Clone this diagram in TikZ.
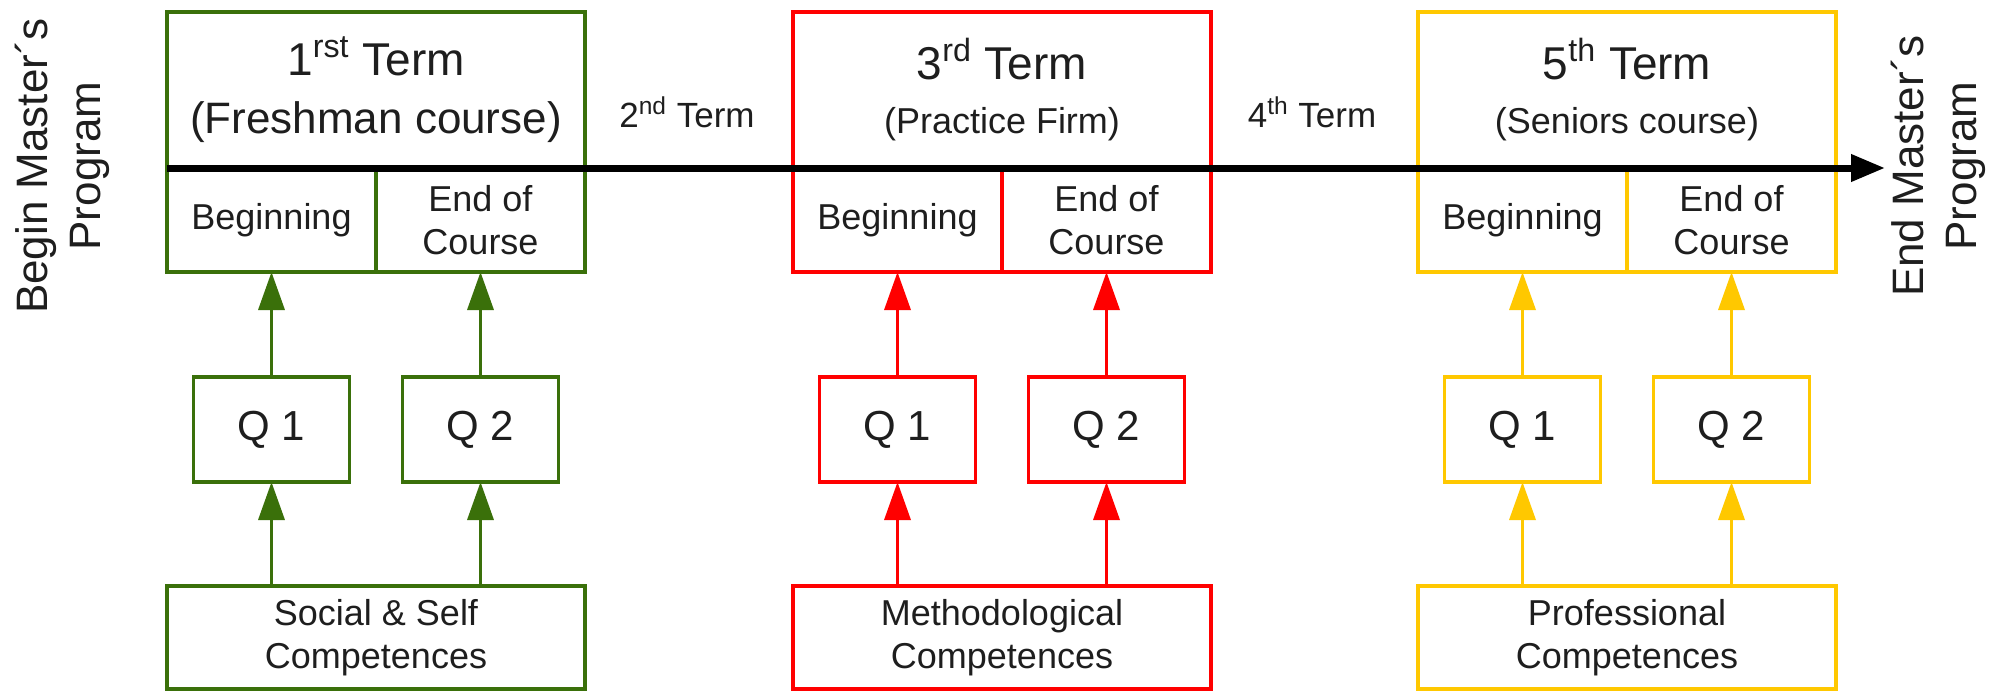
\documentclass[tikz,border=0pt]{standalone}
\usepackage{fontspec}
\setmainfont{Liberation Sans}
\usetikzlibrary{arrows.meta}
\definecolor{cgreen}{RGB}{58,112,10}
\definecolor{cred}{RGB}{255,0,0}
\definecolor{cyellow}{RGB}{255,200,0}
\definecolor{ctext}{RGB}{30,30,30}
\newcommand{\fs}[2]{\fontsize{#1}{#2}\selectfont}
\begin{document}
\begin{tikzpicture}[x=0.5pt,y=-0.5pt,
  box/.style={draw, line width=1.75pt, inner sep=0pt, outer sep=0pt, text=ctext, align=center},
  topbox/.style={box, minimum width=209pt, minimum height=78pt, font=\fs{23}{27}},
  halfbox/.style={box, minimum width=104.5pt, minimum height=52pt, font=\fs{18}{21.5}},
  qbox/.style={box, minimum width=78pt, minimum height=52.5pt, font=\fs{21}{25}},
  compbox/.style={box, minimum width=209pt, minimum height=51.5pt, font=\fs{18}{21.5}},
  conn/.style={line width=1.75pt, -{Triangle[length=19pt,width=13pt]}},
  axis/.style={line width=3.5pt, draw=black, -{Triangle[length=17pt,width=13pt]}},
  plain/.style={text=ctext, inner sep=0pt, align=center}]
\useasboundingbox (0,0) rectangle (2003,691);

% ---------- group 1 (green) ----------
\node[topbox, draw=cgreen] (t1) at (376,90) {1\textsuperscript{rst} Term\\[2pt]\fs{22}{27}(Freshman course)};
\node[halfbox, draw=cgreen] (b1) at (271.5,220) {Beginning};
\node[halfbox, draw=cgreen] (e1) at (480.5,220) {End of\\Course};
\node[qbox, draw=cgreen] (q11) at (271.5,429.5) {Q 1};
\node[qbox, draw=cgreen] (q12) at (480.5,429.5) {Q 2};
\node[compbox, draw=cgreen] (c1) at (376,637.5) {Social \& Self\\Competences};
\draw[conn, draw=cgreen, fill=cgreen] (q11.north) -- (b1.south);
\draw[conn, draw=cgreen, fill=cgreen] (q12.north) -- (e1.south);
\draw[conn, draw=cgreen, fill=cgreen] (c1.north -| q11) -- (q11.south);
\draw[conn, draw=cgreen, fill=cgreen] (c1.north -| q12) -- (q12.south);

% ---------- group 2 (red) ----------
\node[topbox, draw=cred] (t3) at (1002,90) {3\textsuperscript{rd} Term\\[0pt]\fs{18}{27}(Practice Firm)};
\node[halfbox, draw=cred] (b3) at (897.5,220) {Beginning};
\node[halfbox, draw=cred] (e3) at (1106.5,220) {End of\\Course};
\node[qbox, draw=cred] (q31) at (897.5,429.5) {Q 1};
\node[qbox, draw=cred] (q32) at (1106.5,429.5) {Q 2};
\node[compbox, draw=cred] (c3) at (1002,637.5) {Methodological\\Competences};
\draw[conn, draw=cred, fill=cred] (q31.north) -- (b3.south);
\draw[conn, draw=cred, fill=cred] (q32.north) -- (e3.south);
\draw[conn, draw=cred, fill=cred] (c3.north -| q31) -- (q31.south);
\draw[conn, draw=cred, fill=cred] (c3.north -| q32) -- (q32.south);

% ---------- group 3 (yellow) ----------
\node[topbox, draw=cyellow] (t5) at (1627,90) {5\textsuperscript{th} Term\\[0pt]\fs{18}{27}(Seniors course)};
\node[halfbox, draw=cyellow] (b5) at (1522.5,220) {Beginning};
\node[halfbox, draw=cyellow] (e5) at (1731.5,220) {End of\\Course};
\node[qbox, draw=cyellow] (q51) at (1522.5,429.5) {Q 1};
\node[qbox, draw=cyellow] (q52) at (1731.5,429.5) {Q 2};
\node[compbox, draw=cyellow] (c5) at (1627,637.5) {Professional\\Competences};
\draw[conn, draw=cyellow, fill=cyellow] (q51.north) -- (b5.south);
\draw[conn, draw=cyellow, fill=cyellow] (q52.north) -- (e5.south);
\draw[conn, draw=cyellow, fill=cyellow] (c5.north -| q51) -- (q51.south);
\draw[conn, draw=cyellow, fill=cyellow] (c5.north -| q52) -- (q52.south);

% ---------- intermediate terms ----------
\node[plain, anchor=base, font=\fs{17.5}{21}] (t2) at (687,127) {2\textsuperscript{nd} Term};
\node[plain, anchor=base, font=\fs{17.5}{21}] (t4) at (1312,127) {4\textsuperscript{th} Term};

% ---------- time axis ----------
\coordinate (axend) at (1885,168);
\draw[axis] (t1.south west) -- (axend);

% ---------- begin / end labels ----------
\node[plain, rotate=90, font=\fs{22}{26.5}] (beg) at (62,166) {Begin Master´s\\Program};
\node[plain, rotate=90, font=\fs{22}{26.5}] (fin) at (1938,166) {End Master´s\\Program};
\end{tikzpicture}
\end{document}
